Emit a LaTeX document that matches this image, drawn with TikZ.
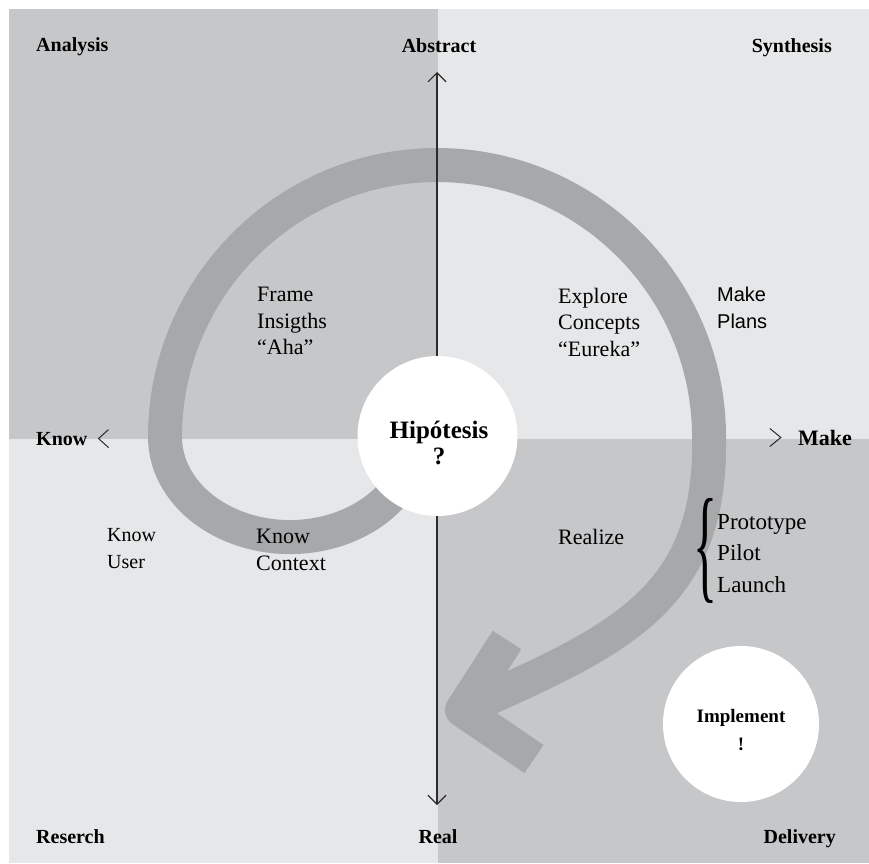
\documentclass[tikz,border=0pt]{standalone}
\usepackage{fontspec}
\usepackage{graphicx}
\setmainfont{Liberation Serif}
\newfontfamily\plansfont{Liberation Sans}
\usetikzlibrary{arrows.meta}
\definecolor{quaddark}{HTML}{C6C7C9}
\definecolor{quadlight}{HTML}{E6E7E8}
\definecolor{spiral}{HTML}{A7A8AA}
\definecolor{axisline}{HTML}{2B2B2B}

\begin{document}
\begin{tikzpicture}[x=1pt,y=-1pt,
    corner/.style={font=\fontsize{20}{24}\selectfont\bfseries,inner sep=0},
    note/.style={font=\fontsize{22}{26.5}\selectfont,align=left,inner sep=0,anchor=north west},
    band/.style={draw=spiral,line width=34pt},
    hub/.style={circle,fill=white,inner sep=0},
    hubtext/.style={font=\bfseries,align=center,inner sep=0}]
  \useasboundingbox (0,0) rectangle (869,863);
  \fill[quaddark] (9,9) rectangle (438,439);
  \fill[quadlight] (438,9) rectangle (869,439);
  \fill[quadlight] (9,439) rectangle (438,863);
  \fill[quaddark] (438,439) rectangle (869,863);

  \draw[band] (403.3,479.3) arc[start angle=25,end angle=180,x radius=125,y radius=100]
    arc[start angle=180,end angle=360,radius=272]
    .. controls (712,600) and (620,640) .. (462,710);
  \draw[band,line join=round] (507,640) -- (462,710) -- (534,759);

  \coordinate (up) at (437,72);
  \coordinate (down) at (437,805);
  \draw[axisline,line width=1.2pt,{Straight Barb[length=9pt,width=18pt]}-{Straight Barb[length=9pt,width=18pt]}] (down) -- (up);

  \node[hub,minimum size=160pt] (hyp) at (437.5,436) {};
  \node[hubtext,font=\fontsize{25}{26}\selectfont\bfseries] (hyptext) at (439,443) {Hipótesis\\?};
  \node[hub,minimum size=156pt] (impl) at (741,724) {};
  \node[hubtext,font=\fontsize{19}{28}\selectfont\bfseries] (impltext) at (741,730) {Implement\\!};

  \node[corner,anchor=base west] (analysis) at (36,51) {Analysis};
  \node[corner,anchor=base] (abstract) at (439,52) {Abstract};
  \node[corner,anchor=base east] (synthesis) at (832,52) {Synthesis};
  \node[corner,anchor=base west] (know) at (36,445) {Know};
  \node[corner,anchor=base east,font=\fontsize{22}{24}\selectfont\bfseries] (make) at (852,445) {Make};
  \node[corner,anchor=base west] (reserch) at (36,843) {Reserch};
  \node[corner,anchor=base] (real) at (438,843) {Real};
  \node[corner,anchor=base east] (delivery) at (836,843) {Delivery};
  \draw[axisline,line width=1pt] ([xshift=21pt,yshift=9pt]know.east) -- ([xshift=11pt]know.east) -- ([xshift=21pt,yshift=-9pt]know.east);
  \draw[axisline,line width=1pt] ([xshift=-28pt,yshift=9pt]make.west) -- ([xshift=-17pt]make.west) -- ([xshift=-28pt,yshift=-9pt]make.west);

  \node[note] (frame) at (257,287) {Frame\\Insigths\\“Aha”};
  \node[note] (explore) at (558,288) {Explore\\Concepts\\“Eureka”};
  \node[note,font=\plansfont\fontsize{20}{27}\selectfont] (plans) at (717,287) {Make\\Plans};
  \node[note,font=\fontsize{20}{27}\selectfont] (user) at (107,528) {Know\\User};
  \node[note] (context) at (256,529) {Know\\Context};
  \node[note] (realize) at (558,529) {Realize};
  \node[inner sep=0] (brace) at (705,551) {\resizebox{24pt}{88pt}{\{}};
  \node[note,font=\fontsize{23}{31.5}\selectfont] (steps) at (717,514) {Prototype\\Pilot\\Launch};
\end{tikzpicture}
\end{document}
